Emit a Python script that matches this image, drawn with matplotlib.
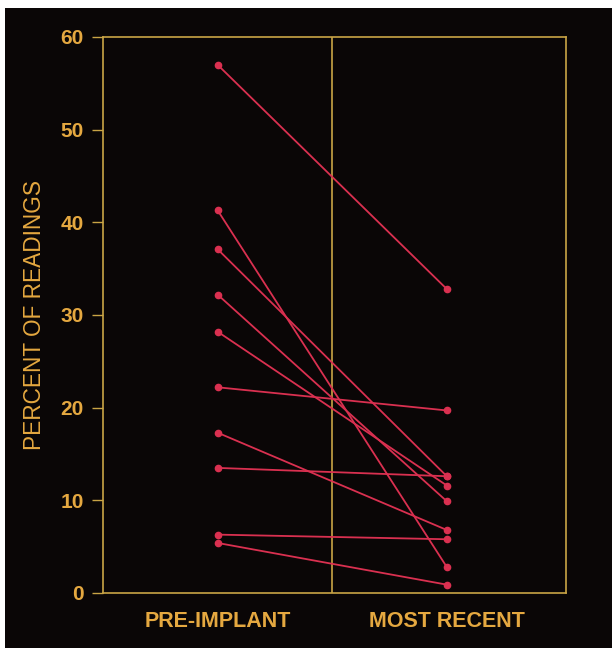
import matplotlib.pyplot as plt
from matplotlib.patches import Rectangle

# percent of readings, before implant and at most recent check
pre_implant = [57.0, 41.3, 37.1, 32.2, 28.2, 22.2, 17.3, 13.5, 6.3, 5.4]
most_recent = [32.8, 2.8, 12.6, 9.9, 11.6, 19.7, 6.8, 12.6, 5.8, 0.9]
group_labels = ['PRE-IMPLANT', 'MOST RECENT']
y_ticks = [0, 10, 20, 30, 40, 50, 60]

red = '#da3050'
gold = '#c9a445'
text_col = '#e5a840'

plt.rcParams['font.family'] = ['Liberation Sans', 'DejaVu Sans']

fig = plt.figure(figsize=(6.12, 6.48), dpi=100, facecolor='white')
# black panel behind everything
fig.add_artist(Rectangle((5 / 612, 0), 1, 1 - 8 / 648, transform=fig.transFigure,
                         facecolor='#0a0606', edgecolor='none', zorder=-10))

ax = fig.add_axes([103 / 612, 1 - 593 / 648, 463 / 612, 556 / 648])
ax.set_zorder(1)
ax.set_facecolor('#0a0606')

for a, b in zip(pre_implant, most_recent):
    ax.plot([0, 1], [a, b], color=red, lw=1.3, marker='o', ms=4.5, zorder=3)

# divider between the two groups
ax.axvline(0.5, color=gold, lw=1.2, zorder=2)

ax.set_xlim(-0.5, 1.52)
ax.set_ylim(0, 60)
ax.set_yticks(y_ticks)
ax.set_yticklabels([str(t) for t in y_ticks], fontsize=15, fontweight='bold', color=text_col)
ax.set_xticks([0, 1])
ax.set_xticklabels(group_labels, fontsize=15.5, fontweight='bold', color=text_col)
ax.tick_params(axis='y', length=8, width=1, color=gold, pad=6)
ax.tick_params(axis='x', length=0, pad=13)
for s in ax.spines.values():
    s.set_color(gold)
    s.set_linewidth(1.2)

ax.set_ylabel('PERCENT OF READINGS', fontsize=16.3, color=text_col, labelpad=10)

fig.savefig('out.png', dpi=100, facecolor=fig.get_facecolor())
